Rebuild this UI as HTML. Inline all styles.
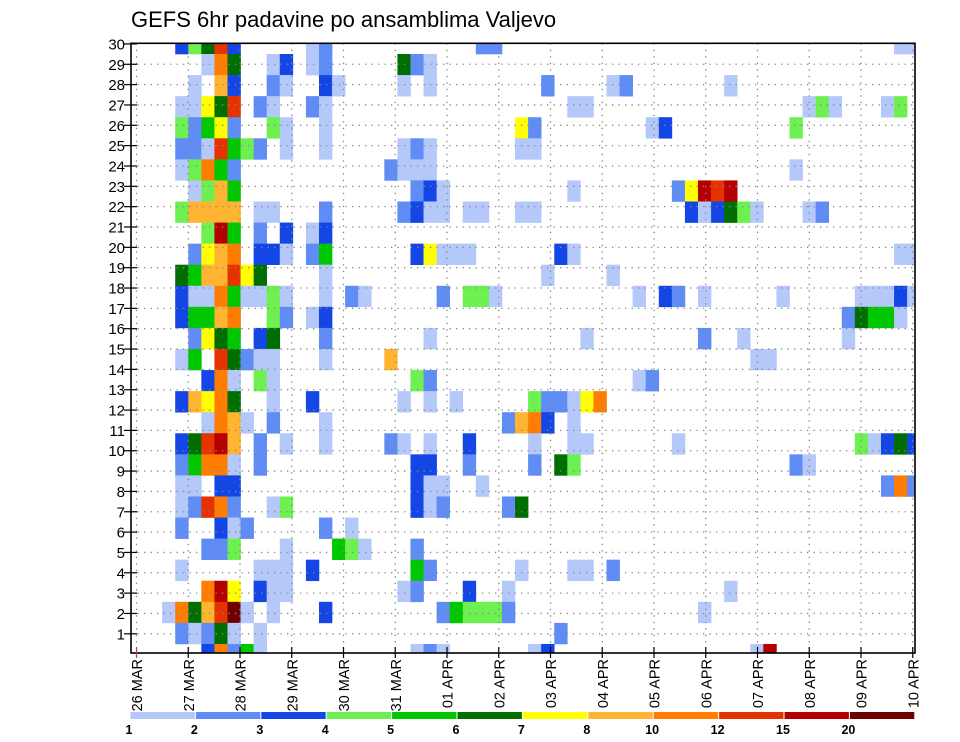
<!DOCTYPE html>
<html><head><meta charset="utf-8"><title>GEFS 6hr padavine</title>
<style>
html,body{margin:0;padding:0;background:#fff;}
svg{display:block;font-family:"Liberation Sans","DejaVu Sans",sans-serif;}
</style></head>
<body>
<svg id="chart" width="960" height="742" viewBox="0 0 960 742" xmlns="http://www.w3.org/2000/svg">
<rect x="0" y="0" width="960" height="742" fill="#fff"/>
<text x="131" y="27" font-size="22" fill="#000">GEFS 6hr padavine po ansamblima Valjevo</text>
<g id="cells"></g>
<g id="grid"></g>
<rect x="131" y="43.3" width="784" height="609.7" fill="none" stroke="#000" stroke-width="1.6"/>
<g id="yaxis"></g>
<g id="xaxis"></g>
<g id="legend"></g>
</svg>
<script>
// ---- data ----
const dayLabels = ["26 MAR","27 MAR","28 MAR","29 MAR","30 MAR","31 MAR","01 APR","02 APR","03 APR","04 APR","05 APR","06 APR","07 APR","08 APR","09 APR","10 APR"];
const memberLabels = [1,2,3,4,5,6,7,8,9,10,11,12,13,14,15,16,17,18,19,20,21,22,23,24,25,26,27,28,29,30];
const legendTicks = ["1","2","3","4","5","6","7","8","10","12","15","20"];
const thresholds = [1,2,3,4,5,6,7,8,10,12,15,20];
const palette = ["#b4c8fa","#5f8cf5","#1446e6","#6ef050","#00c800","#006e00","#ffff00","#ffb432","#ff7d00","#e63200","#b40000","#6e0000"];
// representative mm value per class code (1..c)
const codeValues = {"1":1.5,"2":2.5,"3":3.5,"4":4.5,"5":5.5,"6":6.5,"7":7.5,"8":9,"9":11,"a":13.5,"b":17.5,"c":22};
// rows top->bottom, "step:class"
const rowData = [
"3:3 4:4 5:6 6:a 7:3 13:1 14:2 26:2 27:2 58:1 59:1",
"5:1 6:9 7:6 10:1 11:3 13:1 14:2 20:6 21:2 22:1",
"4:1 6:8 7:3 10:2 11:1 14:3 15:1 20:1 22:1 31:2 36:1 37:2 45:1",
"3:1 4:1 5:7 6:6 7:a 9:2 10:1 13:2 14:1 33:1 34:1 51:1 52:4 53:1 57:1 58:4",
"3:4 4:2 5:5 6:7 7:2 10:4 11:1 14:1 29:7 30:2 39:1 40:3 50:4",
"3:2 4:2 5:1 6:a 7:5 8:4 9:2 11:1 14:1 20:1 21:2 22:1 29:1 30:1",
"3:1 4:4 5:9 6:5 7:2 19:2 20:1 21:1 22:1 50:1",
"4:1 5:4 6:8 7:5 21:2 22:3 23:1 33:1 41:2 42:7 43:b 44:a 45:b",
"3:4 4:8 5:8 6:8 7:8 9:1 10:1 14:2 20:2 21:3 22:1 23:1 25:1 26:1 29:1 30:1 42:3 43:1 44:3 45:6 46:4 47:1 51:1 52:2",
"5:4 6:b 7:5 9:2 11:3 13:1 14:3",
"4:2 5:7 6:8 7:9 9:3 10:3 11:1 13:2 14:5 21:3 22:7 23:1 24:1 25:1 32:3 33:1 58:1 59:1",
"3:6 4:5 5:8 6:8 7:a 8:7 9:6 14:1 31:1 36:1",
"3:3 4:1 5:1 6:9 7:5 8:1 9:1 10:4 11:1 14:1 16:2 17:1 23:2 25:4 26:4 27:1 38:1 40:3 41:2 43:1 49:1 55:1 56:1 57:1 58:3 59:1",
"3:3 4:5 5:5 6:8 7:9 10:4 11:2 13:1 14:3 54:2 55:6 56:5 57:5 58:1",
"4:2 5:7 6:6 7:5 9:3 10:6 14:2 22:1 34:1 43:2 46:1 54:1",
"3:1 4:5 6:a 7:6 8:2 9:1 10:1 14:1 19:8 47:1 48:1",
"5:3 6:9 7:1 9:4 10:1 21:4 22:2 38:1 39:2",
"3:3 4:8 5:7 6:9 7:6 10:1 13:3 20:1 22:1 24:1 30:4 31:2 32:2 33:1 34:7 35:9",
"5:1 6:9 7:8 8:1 10:2 14:1 28:2 29:8 30:9 31:3 33:1",
"3:3 4:6 5:a 6:b 7:8 9:2 11:1 14:1 19:2 20:1 22:1 25:3 30:1 33:1 34:1 41:1 55:4 56:1 57:3 58:6 59:3",
"3:2 4:5 5:9 6:9 7:1 9:2 21:3 22:3 25:2 30:2 32:6 33:4 50:2 51:1",
"3:1 4:1 6:3 7:3 21:3 22:1 23:1 26:1 57:2 58:9 59:2",
"3:1 4:2 5:a 6:9 7:2 10:1 11:4 21:3 22:1 23:2 28:2 29:6",
"3:2 6:3 7:1 8:2 14:2 16:1",
"5:2 6:2 7:4 11:1 15:5 16:4 17:1 21:2",
"3:1 9:1 10:1 11:1 13:3 21:5 22:2 29:1 33:1 34:1 36:2",
"5:9 6:b 7:7 9:3 10:1 11:1 20:1 21:2 25:3 28:1 45:1",
"2:1 3:9 4:6 5:8 6:a 7:c 8:1 10:1 14:3 23:2 24:5 25:4 26:4 27:4 28:2 43:1",
"3:2 4:1 5:2 6:6 7:1 9:1 32:2",
"5:3 6:9 7:2 8:5 9:1 21:1 22:2 23:1 30:1 31:3 47:1 48:b"
];

// ---- geometry ----
const NS = "http://www.w3.org/2000/svg";
const plot = {l:131, r:915, t:43.3, b:653};
const cellW = 13.07, cellX0 = 136;
const cellH = 21.07, cellY0 = 54;
function xStep(j){ return cellX0 + cellW*j; }
function yRow(i){ return cellY0 + cellH*(i-1); }
function xDay(d){ return 136.5 + 51.75*d; }
function yMember(k){ return 633.8 - (k-1)*20.34; }
function colorFor(v){
  let idx = -1;
  for (let t=0;t<thresholds.length;t++){ if (v>=thresholds[t]) idx=t; }
  return idx<0 ? null : palette[idx];
}
function mk(tag, attrs, parent){
  const e = document.createElementNS(NS, tag);
  for (const k in attrs) e.setAttribute(k, attrs[k]);
  parent.appendChild(e); return e;
}

// cells
const gc = document.getElementById("cells");
rowData.forEach((row, i) => {
  row.split(" ").forEach(tok => {
    if (!tok) return;
    const [js, code] = tok.split(":");
    const j = +js, v = codeValues[code];
    const col = colorFor(v); if (!col) return;
    let x0 = Math.max(plot.l, xStep(j)), x1 = Math.min(plot.r, xStep(j+1));
    let y0 = Math.max(plot.t, yRow(i)), y1 = Math.min(plot.b, yRow(i+1));
    if (x1<=x0 || y1<=y0) return;
    const r = mk("rect", {x:x0.toFixed(2), y:y0.toFixed(2), width:(x1-x0+0.3).toFixed(2), height:(y1-y0+0.3).toFixed(2), fill:col}, gc);
    
    
  });
});

// gridlines
const gg = document.getElementById("grid");
for (let k=1;k<=29;k++){
  const y = yMember(k);
  const l = mk("line", {x1:plot.l, x2:plot.r, y1:y, y2:y, stroke:"#888", "stroke-width":"1.3", "stroke-dasharray":"1.3 5.2"}, gg);
  
  
}
for (let d=0; d<dayLabels.length; d++){
  const x = xDay(d);
  if (x>plot.r) continue;
  const l = mk("line", {x1:x, x2:x, y1:plot.t, y2:plot.b, stroke:"#888", "stroke-width":"1.3", "stroke-dasharray":"1.3 5.2"}, gg);
  
  
}

// y axis
const gy = document.getElementById("yaxis");
memberLabels.forEach(k => {
  const y = yMember(k);
  const t = mk("line", {x1:124, x2:137, y1:y, y2:y, stroke:"#000", "stroke-width":"1.2"}, gy);
  
  
  const tx = mk("text", {x:125, y:y+5.5, "font-size":"15", "text-anchor":"end", fill:"#000"}, gy);
  tx.textContent = k;
  
  
});

// x axis
const gx = document.getElementById("xaxis");
dayLabels.forEach((lab, d) => {
  const x = xDay(d);
  const t = mk("line", {x1:x, x2:x, y1:plot.b-6, y2:plot.b+5, stroke: d===0 ? "#c04040" : "#000", "stroke-width":"1.2"}, gx);
  
  
  const tx = mk("text", {x:0, y:0, "font-size":"14.5", "text-anchor":"end", fill:"#000", transform:`translate(${(x+5.5).toFixed(1)},659) rotate(-90)`}, gx);
  tx.textContent = lab;
  
  
});

// legend
const gl = document.getElementById("legend");
const lgX0 = 130, lgW = 65.4, lgY = 712, lgH = 7;
palette.forEach((c, n) => {
  const r = mk("rect", {x:(lgX0+n*lgW+0.5).toFixed(1), y:lgY, width:(lgW-1).toFixed(1), height:lgH, fill:c}, gl);
  
  
});
legendTicks.forEach((lab, n) => {
  const tx = mk("text", {x:(lgX0+n*lgW-1).toFixed(1), y:734, "font-size":"12.5", "font-weight":"bold", "text-anchor":"middle", fill:"#000"}, gl);
  tx.textContent = lab;
  
  
});
</script>
</body></html>
